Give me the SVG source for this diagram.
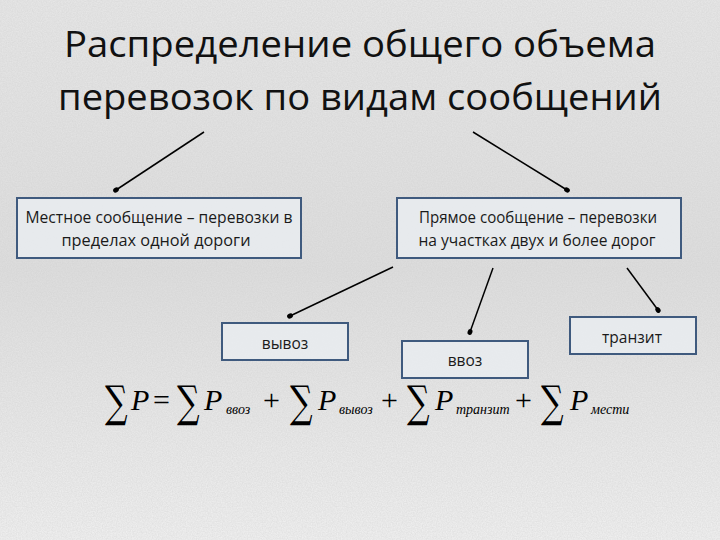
<svg xmlns="http://www.w3.org/2000/svg" width="720" height="540" viewBox="0 0 720 540">
<defs>
<filter id="grain" x="0" y="0" width="100%" height="100%">
<feTurbulence type="fractalNoise" baseFrequency="0.8" numOctaves="2" seed="3" result="n"/>
<feColorMatrix type="matrix" values="0 0 0 0 0.6  0 0 0 0 0.6  0 0 0 0 0.6  0 0 0 0.6 -0.12"/>
</filter>
<linearGradient id="bg" x1="0" y1="0" x2="0" y2="1">
<stop offset="0" stop-color="#e6e6e6"/>
<stop offset="0.5" stop-color="#dddddd"/>
<stop offset="1" stop-color="#efefef"/>
</linearGradient>
<marker id="dot" viewBox="0 0 6 6" refX="3" refY="3" markerWidth="4" markerHeight="4" orient="auto">
<ellipse cx="3" cy="3" rx="3" ry="2.4" fill="#000"/>
</marker>
<style>
.box{fill:#e9ecf0;fill-opacity:0.85;stroke:#3f5a7e;stroke-width:2}
.lbl{font-family:"Open Sans","Noto Sans","Liberation Sans",sans-serif;font-size:15.5px;fill:#1a1a1a;text-anchor:middle}
.ttl{font-family:"Open Sans","Noto Sans","Liberation Sans",sans-serif;font-size:37px;fill:#111;text-anchor:middle}
.conn{stroke:#000;stroke-width:1.5;fill:none;marker-end:url(#dot)}
.sig{font-family:"DejaVu Serif","Liberation Serif",serif;font-size:44px;fill:#000}
.p{font-family:"Liberation Serif",serif;font-style:italic;font-size:30px;fill:#000}
.op{font-family:"Liberation Serif",serif;font-size:30px;fill:#000}
.sub{font-family:"Liberation Serif",serif;font-style:italic;font-size:14px;fill:#000}
</style>
</defs>
<rect width="720" height="540" fill="url(#bg)"/>
<rect width="720" height="540" filter="url(#grain)"/>

<g id="title">
<text class="ttl" x="360" y="57" textLength="592" lengthAdjust="spacingAndGlyphs">Распределение общего объема</text>
<text class="ttl" x="360" y="110" textLength="604" lengthAdjust="spacingAndGlyphs">перевозок по видам сообщений</text>
</g>

<g id="connectors">
<line class="conn" x1="204" y1="132" x2="116" y2="190"/>
<line class="conn" x1="473" y1="132" x2="567" y2="190"/>
<line class="conn" x1="393" y1="267" x2="290" y2="316"/>
<line class="conn" x1="493" y1="268" x2="470" y2="332"/>
<line class="conn" x1="627" y1="268" x2="658" y2="310"/>
</g>

<g id="local">
<rect class="box" x="17" y="198" width="284" height="60"/>
<text class="lbl" x="159" y="223" textLength="267" lengthAdjust="spacingAndGlyphs">Местное сообщение – перевозки в</text>
<text class="lbl" x="156" y="246" textLength="189" lengthAdjust="spacingAndGlyphs">пределах одной дороги</text>
</g>
<g id="direct">
<rect class="box" x="397" y="198" width="284" height="60"/>
<text class="lbl" x="538" y="223" textLength="238" lengthAdjust="spacingAndGlyphs">Прямое сообщение – перевозки</text>
<text class="lbl" x="537" y="246" textLength="237" lengthAdjust="spacingAndGlyphs">на участках двух и более дорог</text>
</g>
<g id="export">
<rect class="box" x="222" y="323" width="126" height="37"/>
<text class="lbl" x="285" y="349">вывоз</text>
</g>
<g id="import">
<rect class="box" x="402" y="341" width="126" height="37"/>
<text class="lbl" x="465" y="366">ввоз</text>
</g>
<g id="transit">
<rect class="box" x="570" y="317" width="126" height="37"/>
<text class="lbl" x="632" y="343">транзит</text>
</g>

<g id="formula">
<text class="sig" transform="translate(105,417) scale(0.72,1)">∑</text>
<text class="p" x="131" y="410">P</text>
<text class="op" x="153" y="410">=</text>
<text class="sig" transform="translate(177,417) scale(0.72,1)">∑</text>
<text class="p" x="204" y="410">P</text>
<text class="sub" x="226" y="414">ввоз</text>
<text class="op" x="263" y="410">+</text>
<text class="sig" transform="translate(290,417) scale(0.72,1)">∑</text>
<text class="p" x="318" y="410">P</text>
<text class="sub" x="339" y="414">вывоз</text>
<text class="op" x="381" y="410">+</text>
<text class="sig" transform="translate(407,417) scale(0.72,1)">∑</text>
<text class="p" x="435" y="410">P</text>
<text class="sub" x="456" y="414">транзит</text>
<text class="op" x="515" y="410">+</text>
<text class="sig" transform="translate(541,417) scale(0.72,1)">∑</text>
<text class="p" x="570" y="410">P</text>
<text class="sub" x="591" y="414">мести</text>
</g>
</svg>
